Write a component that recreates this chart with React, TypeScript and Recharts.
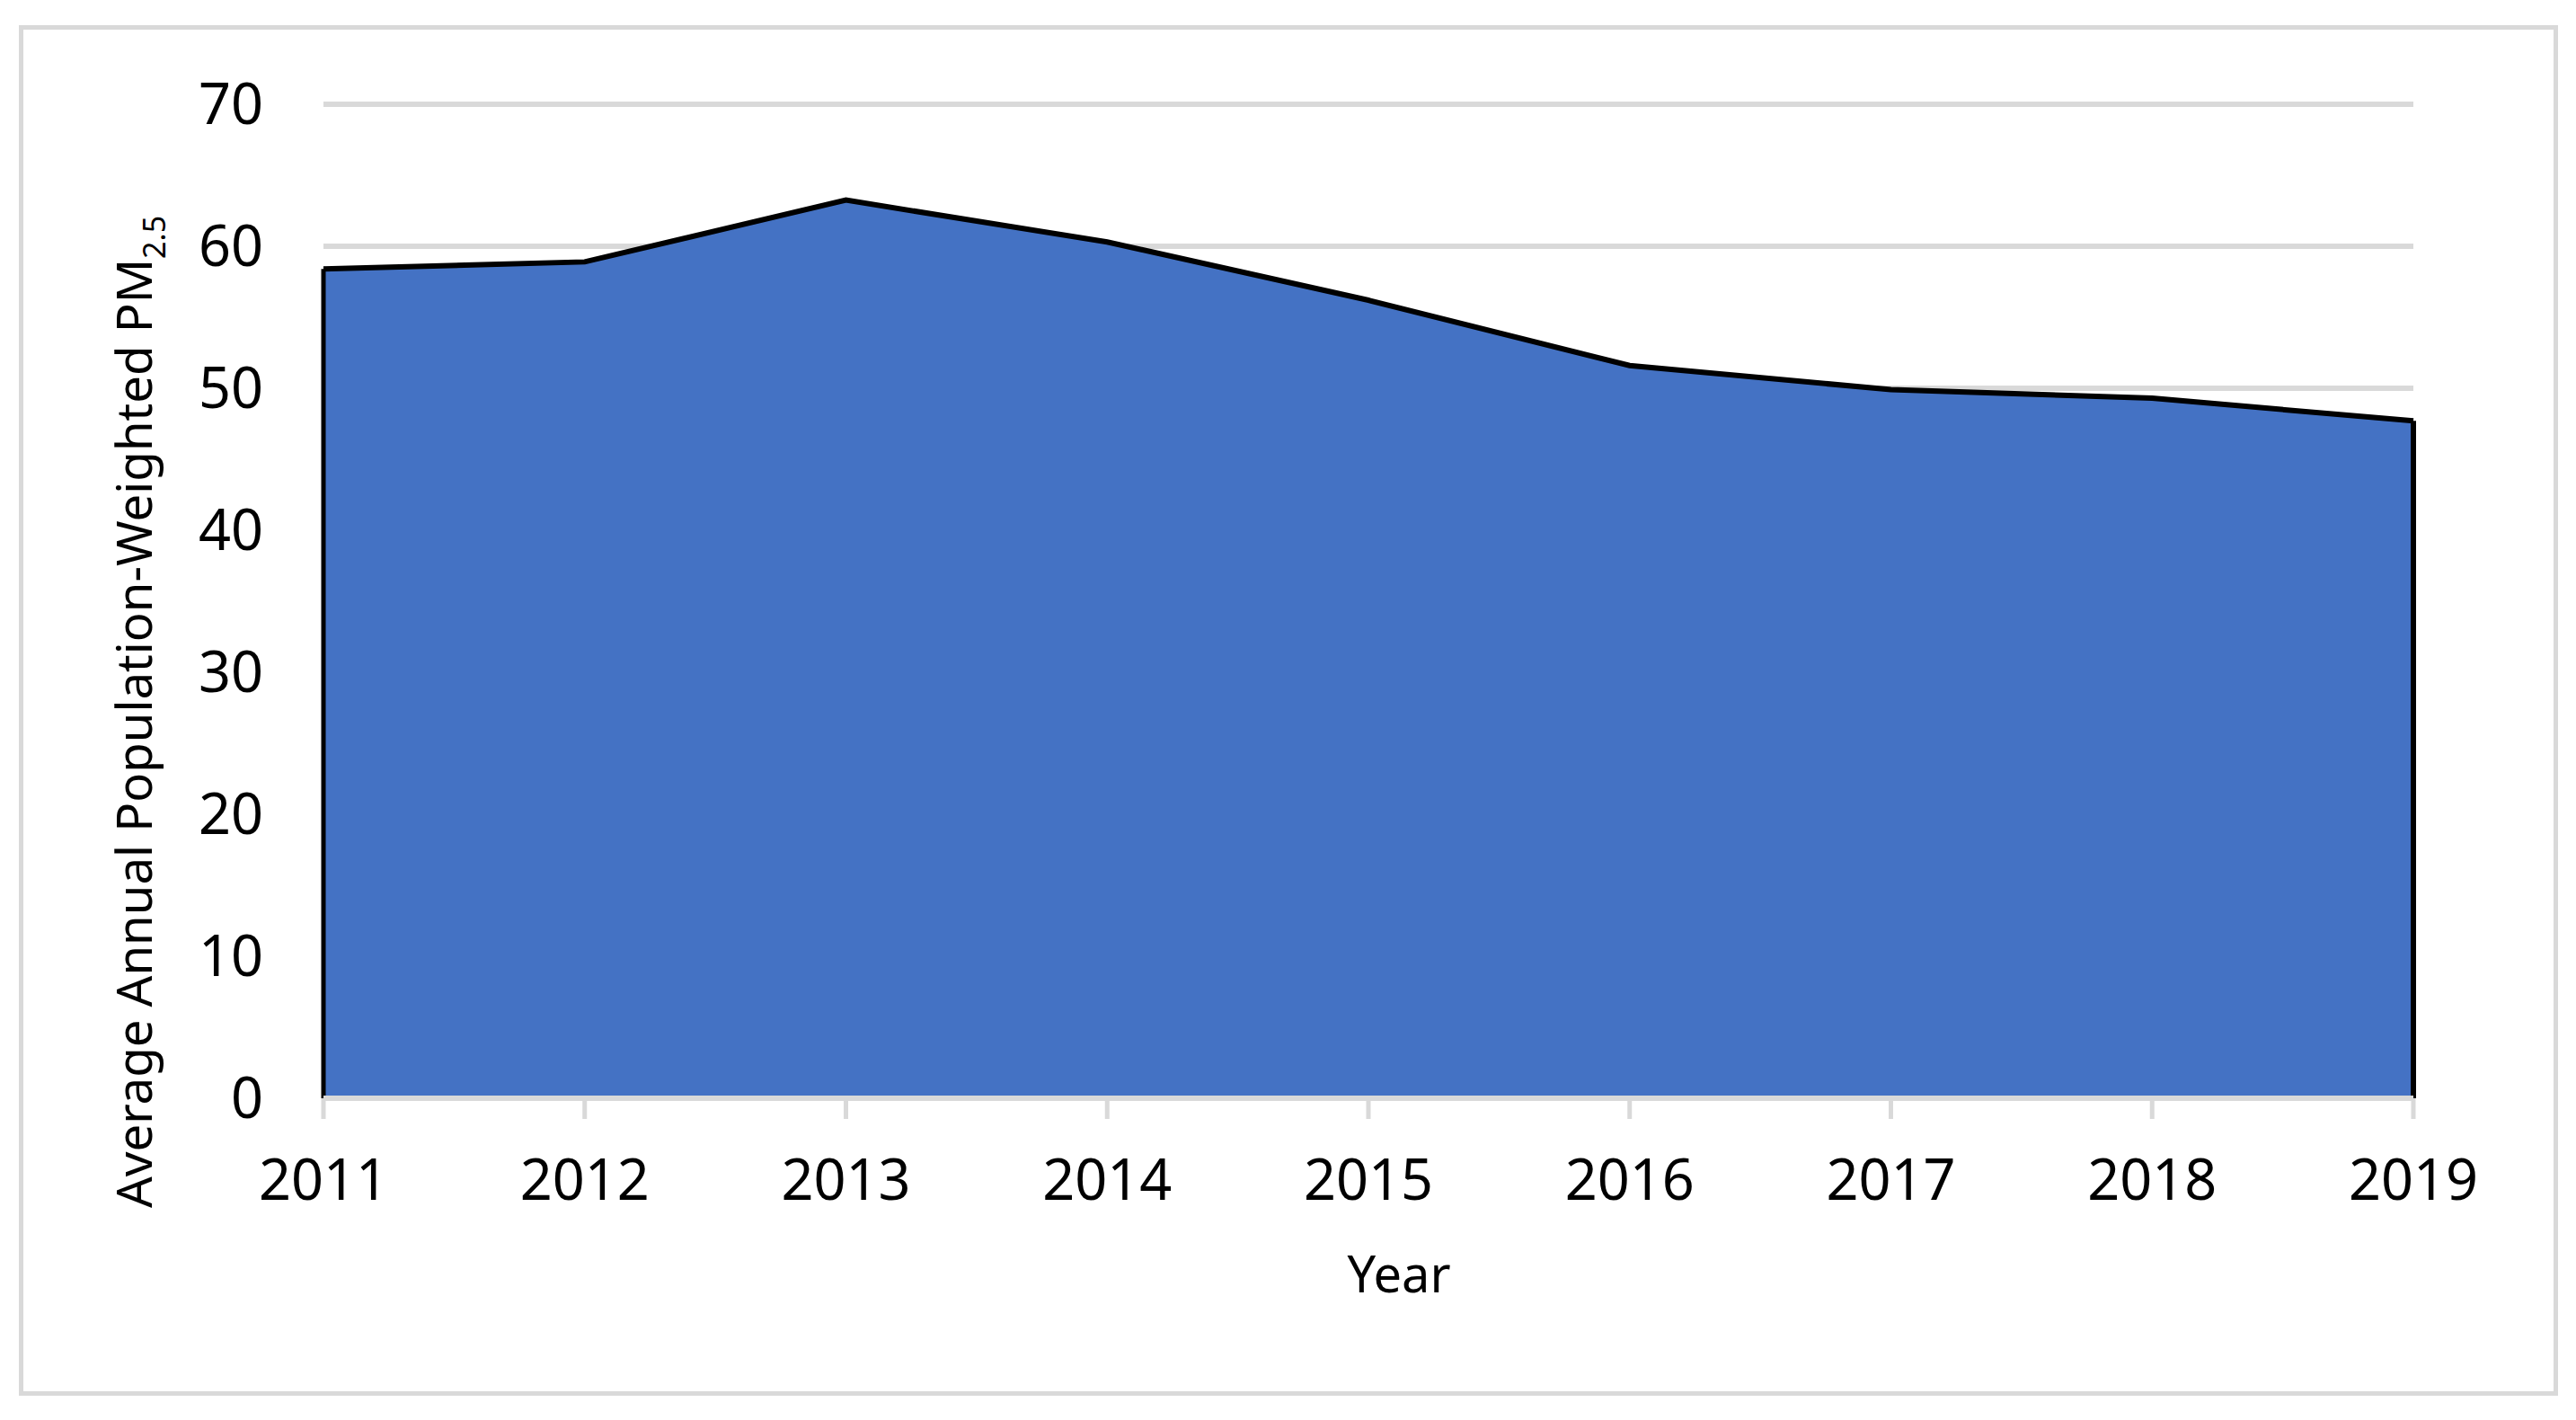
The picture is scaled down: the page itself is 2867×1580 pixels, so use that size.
import { AreaChart, Area, XAxis, YAxis, CartesianGrid, ReferenceLine, Label } from "recharts";

const years = ["2011", "2012", "2013", "2014", "2015", "2016", "2017", "2018", "2019"];
const pm25 = [58.4, 58.9, 63.25, 60.3, 56.2, 51.6, 49.9, 49.3, 47.7];
const yTicks = [0, 10, 20, 30, 40, 50, 60, 70];

const FONT = "'Noto Sans', 'Open Sans', sans-serif";
const GRID = "#d9d9d9";

const data = years.map((year, i) => ({ year, pm25: pm25[i] }));

const YTitle = () => (
  <text
    x={169}
    y={792}
    transform="rotate(-90 169 792)"
    textAnchor="middle"
    fontFamily={FONT}
    fontSize={54.5}
    fill="#000"
  >
    Average Annual Population-Weighted PM
    <tspan dy={15} fontSize={34}>
      2.5
    </tspan>
  </text>
);

const XTitle = () => (
  <text x={1557} y={1438} textAnchor="middle" fontFamily={FONT} fontSize={56} fill="#000">
    Year
  </text>
);

const App = () => {
  return (
    <div style={{ position: "absolute", left: 0, top: 0, width: 2867, height: 1580, background: "#fff" }}>
      <div
        style={{
          position: "absolute",
          left: 21,
          top: 28,
          width: 2826,
          height: 1525,
          border: `5px solid ${GRID}`,
          boxSizing: "border-box",
        }}
      />
      <div style={{ position: "absolute", left: 0, top: 0 }}>
        <AreaChart
          width={2867}
          height={1580}
          data={data}
          margin={{ top: 116, right: 181, bottom: 238, left: 260 }}
        >
          <CartesianGrid vertical={false} stroke={GRID} strokeWidth={6} />
          <Area
            type="linear"
            dataKey="pm25"
            fill="#4472C4"
            fillOpacity={1}
            stroke="#000"
            strokeWidth={6}
            isAnimationActive={false}
            dot={false}
            activeDot={false}
          />
          <ReferenceLine
            segment={[
              { x: years[0], y: 0 },
              { x: years[0], y: pm25[0] },
            ]}
            stroke="#000"
            strokeWidth={5}
          />
          <ReferenceLine
            segment={[
              { x: years[years.length - 1], y: 0 },
              { x: years[years.length - 1], y: pm25[pm25.length - 1] },
            ]}
            stroke="#000"
            strokeWidth={6}
          />
          <XAxis
            dataKey="year"
            height={120}
            interval={0}
            axisLine={{ stroke: GRID, strokeWidth: 6 }}
            tickLine={{ stroke: GRID, strokeWidth: 5 }}
            tickSize={23}
            tickMargin={45}
            tick={{ fill: "#000", fontSize: 63, fontFamily: FONT }}
          >
            <Label content={<XTitle />} />
          </XAxis>
          <YAxis
            width={100}
            domain={[0, 70]}
            ticks={yTicks}
            axisLine={false}
            tickLine={false}
            tickSize={0}
            tickMargin={67}
            tick={{ fill: "#000", fontSize: 63, fontFamily: FONT }}
          >
            <Label content={<YTitle />} />
          </YAxis>
        </AreaChart>
      </div>
    </div>
  );
};

export default App;
